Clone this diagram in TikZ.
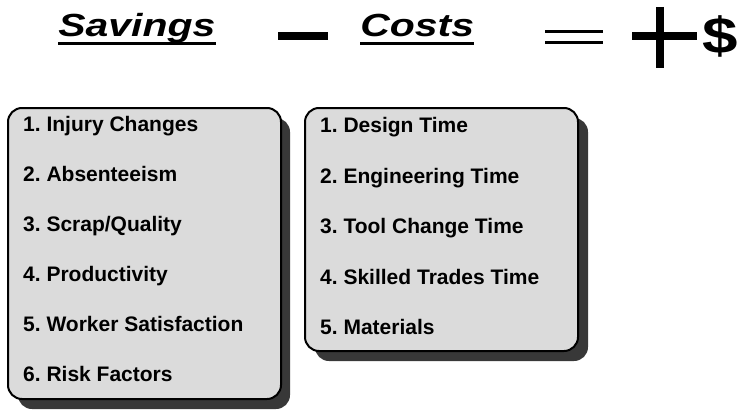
\documentclass[tikz,border=0pt]{standalone}
\usepackage{fontspec}
\setmainfont{Liberation Sans}
\usetikzlibrary{positioning}

\tikzset{
  head/.style={font=\bfseries\itshape\fontsize{32}{36}\selectfont, xscale=1.28, inner sep=0pt, anchor=base west},
  item/.style={font=\bfseries\fontsize{21}{24}\selectfont, inner sep=0pt, anchor=base west},
  panel/.style={draw, line width=2pt, rounded corners=14pt, fill=black!14},
  drop/.style={fill=black!78, rounded corners=14pt},
}

\begin{document}
\begin{tikzpicture}[x=1pt,y=-1pt]
  \useasboundingbox (0,0) rectangle (741,412);
  % heading
  \node[head] (sav) at (58,37) {Savings};
  \draw[line width=3pt] ([yshift=-6.5pt]sav.base west) -- ([yshift=-6.5pt]sav.base east);
  \draw[line width=8pt] (278,36) -- (328,36);
  \node[head] (cost) at (360,37) {Costs};
  \draw[line width=3pt] ([yshift=-6.5pt]cost.base west) -- ([yshift=-6.5pt]cost.base east);
  \draw[line width=3.5pt] (545,31.5) -- (603,31.5) (545,42.5) -- (603,42.5);
  \draw[line width=8pt] (632,36) -- (697,36) (660,7) -- (660,68);
  \node[font=\bfseries\fontsize{51}{56}\selectfont, xscale=1.25, inner sep=0pt, anchor=base west] (gain) at (702,54) {\$};
  % savings panel
  \fill[drop] (18,118) rectangle (290,409);
  \draw[panel] (8,108) rectangle (281,399);
  \foreach \txt [count=\i] in {Injury Changes,Absenteeism,{Scrap/Quality},Productivity,Worker Satisfaction,Risk Factors}
    \node[item] (sv\i) at (23,{81+50*\i}) {\i.\ \txt};
  % costs panel
  \fill[drop] (315,118) rectangle (588,361);
  \draw[panel] (305,108) rectangle (578,351);
  \foreach \txt [count=\i] in {Design Time,Engineering Time,Tool Change Time,Skilled Trades Time,Materials}
    \node[item] (co\i) at (320,{82+50.5*\i}) {\i.\ \txt};
\end{tikzpicture}
\end{document}
